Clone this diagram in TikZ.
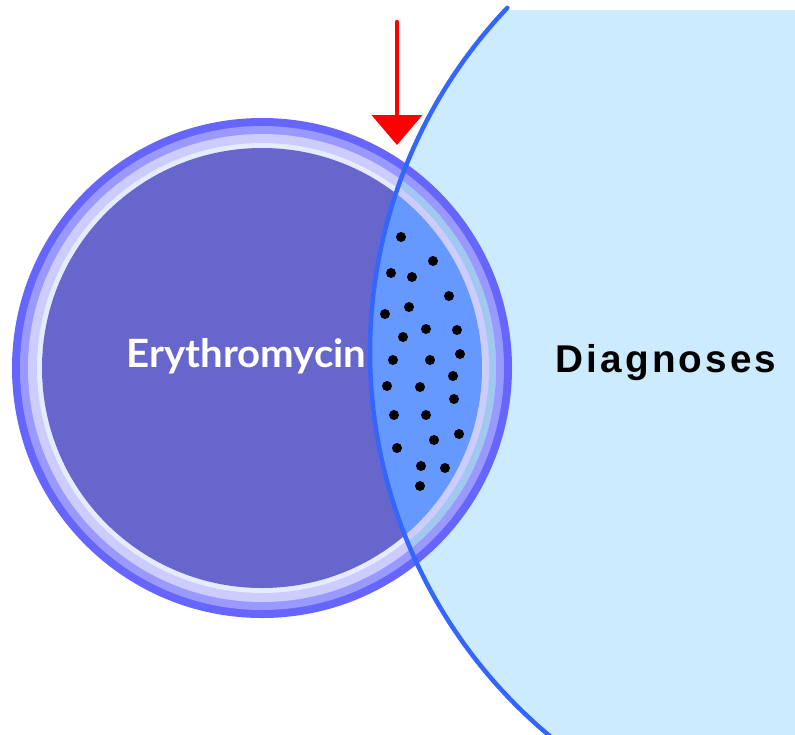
\documentclass[tikz,border=0pt]{standalone}
\usepackage{fontspec}
\setmainfont{Liberation Sans}
\newfontfamily\eryfont{Lato}
\newfontfamily\diagfont[LetterSpace=8]{Liberation Sans}
\usetikzlibrary{arrows.meta}
\definecolor{bigfill}{HTML}{CCEBFF}
\definecolor{bigline}{HTML}{3366FF}
\definecolor{bandA}{HTML}{6666FF}
\definecolor{bandB}{HTML}{9999FF}
\definecolor{bandC}{HTML}{CCCCFF}
\definecolor{bandD}{HTML}{E6ECFF}
\definecolor{innerfill}{HTML}{6666CC}
\definecolor{lensfill}{HTML}{6699FF}
\definecolor{lensbandC}{HTML}{A0C8F0}
\definecolor{arrowred}{HTML}{FF0000}
\begin{document}
\begin{tikzpicture}[x=1pt,y=-1pt,
  dotmark/.style={circle,fill=black,inner sep=0pt,minimum size=10pt},
  bigstroke/.style={draw=bigline,line width=4.5pt,line cap=round},
  arrowshaft/.style={draw=arrowred,line width=4.5pt,line cap=round},
  labeltext/.style={inner sep=0pt,anchor=base}]
\useasboundingbox (0,0) rectangle (795,734);
\coordinate (bigc) at (870,352);
\coordinate (smallc) at (262,368);
% large circle fill
\begin{scope}
  \clip (0,10) rectangle (795,734);
  \fill[bigfill] (bigc) circle[radius=500pt];
\end{scope}
% small circle with bands
\fill[bandA] (smallc) circle[radius=250pt];
\fill[bandB] (smallc) circle[radius=242pt];
\fill[bandC] (smallc) circle[radius=234pt];
\fill[bandD] (smallc) circle[radius=225pt];
\fill[innerfill] (smallc) circle[radius=220pt];
% overlap (lens)
\begin{scope}
  \clip (bigc) circle[radius=500pt];
  \fill[lensbandC] (smallc) circle[radius=234pt];
  \fill[bandC] (smallc) circle[radius=227pt];
  \fill[lensfill] (smallc) circle[radius=220pt];
\end{scope}
% large circle outline
\path[bigstroke] (bigc) ++(136.5:500pt) arc[start angle=136.5,end angle=235,radius=500pt];
% dots
\foreach \px/\py [count=\i] in {401/237,433/261,391/273,412/277,449/296,409/307,385/314,426/329,457/330,403/337,393/360,430/360,460/354,453/376,387/386,420/387,454/399,394/415,426/415,459/434,434/440,397/448,421/466,445/468,420/486}
  \node[dotmark] (dot\i) at (\px,\py) {};
% labels
\node[labeltext,text=white] (ery) at (246.5,367.7) {\eryfont\bfseries\fontsize{39}{40}\selectfont\scalebox{1.03}[1]{Erythromycin}};
\node[labeltext,text=black] (diag) at (666,372.7) {\diagfont\bfseries\fontsize{38.7}{40}\selectfont Diagnoses};
% arrow
\coordinate (arrowtop) at (397,22);
\coordinate (arrowtip) at (397,145);
\path[arrowshaft,-{Triangle[length=30pt,width=50pt]},fill=arrowred] (arrowtop) -- (arrowtip);
\end{tikzpicture}
\end{document}
